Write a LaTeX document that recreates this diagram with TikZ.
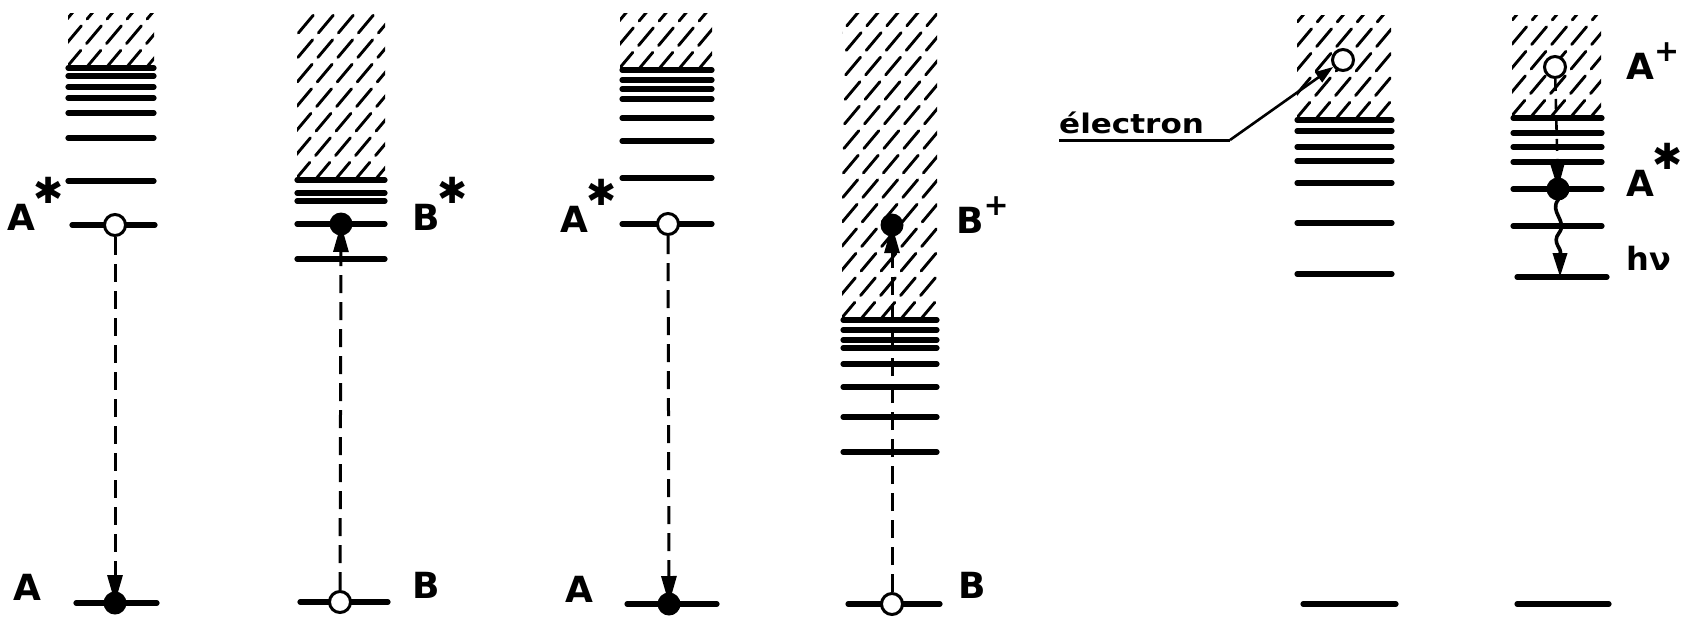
\documentclass[tikz,border=0pt]{standalone}
\usepackage{fontspec}
\setmainfont{DejaVu Sans}
\newfontfamily\widefont[FakeStretch=1.15]{DejaVu Sans}
\usetikzlibrary{arrows.meta}
\newcommand\myhatch[4]{%
  \begin{scope}
    \clip (#1,#2) rectangle (#3,#4);
    \foreach \k in {0,...,19} {
      \draw[hat] ({#1-262+\k*20},#4) -- ++(50:420pt);
    }
  \end{scope}}
\newcommand\mystar{\kern-2pt\raisebox{27pt}{\fontsize{36}{36}\selectfont ✱}}
\newcommand\myplus{\kern0pt\raisebox{18pt}{\fontsize{30}{30}\selectfont +}}
\begin{document}
\begin{tikzpicture}[x=1pt,y=-1pt,
  lvl/.style={line width=5.2pt, line cap=round},
  hat/.style={line width=2.9pt, dash pattern=on 23pt off 9pt, line cap=round},
  conn/.style={line width=3pt, dash pattern=on 18pt off 9pt},
  tip/.style={-{Triangle[length=28pt,width=15pt]}},
  odot/.style={circle, draw, fill=white, line width=3pt, minimum size=21pt, inner sep=0pt},
  fdot/.style={circle, fill=black, minimum size=23pt, inner sep=0pt},
  lab/.style={anchor=base west, inner sep=0pt, font=\bfseries\fontsize{36}{40}\selectfont},
]
\useasboundingbox[fill=white] (0,0) rectangle (1694,616);

% ---------- column 1 ----------
\myhatch{68}{13}{154}{68}
\foreach \y in {68,76,87,98,113,138,181} \draw[lvl] (68,\y) -- (154,\y);
\draw[lvl] (72,225) -- (155,225);
\draw[lvl] (76,603) -- (157,603);
\node[odot] (c1s) at (115,225) {};
\node[fdot] (c1g) at (115,603) {};
\draw[conn,tip] (c1s) -- (c1g.center);
\node[lab] (l1s) at (7,230) {A\mystar};
\node[lab] (l1g) at (13,600) {A};

% ---------- column 2 ----------
\myhatch{297}{13}{385}{180}
\foreach \y in {180,193,201,224,259} \draw[lvl] (297,\y) -- (385,\y);
\draw[lvl] (300,602) -- (388,602);
\node[fdot] (c2s) at (341,224) {};
\node[odot] (c2g) at (340,602) {};
\draw[conn,tip] (c2g) -- (c2s.center);
\node[lab] (l2s) at (412,230) {B\mystar};
\node[lab] (l2g) at (412,598) {B};

% ---------- column 3 ----------
\myhatch{620}{13}{712}{70}
\foreach \y in {70,80,89,99,118,141,178} \draw[lvl] (622,\y) -- (712,\y);
\draw[lvl] (622,224) -- (712,224);
\draw[lvl] (627,604) -- (717,604);
\node[odot] (c3s) at (668,224) {};
\node[fdot] (c3g) at (669,604) {};
\draw[conn,tip] (c3s) -- (c3g.center);
\node[lab] (l3s) at (560,232) {A\mystar};
\node[lab] (l3g) at (565,602) {A};

% ---------- column 4 ----------
\myhatch{842}{13}{937}{320}
\foreach \y in {320,330,340,348,364,387,417,452} \draw[lvl] (843,\y) -- (937,\y);
\draw[lvl] (848,604) -- (940,604);
\node[fdot] (c4s) at (892,225) {};
\node[odot] (c4g) at (892,604) {};
\draw[conn,tip] (c4g) -- (c4s.center);
\node[lab] (l4s) at (956,233) {B\myplus};
\node[lab] (l4g) at (958,598) {B};

% ---------- column 5 ----------
\myhatch{1297}{15}{1391}{120}
\foreach \y in {120,131,147,161,183,223,274} \draw[lvl] (1297,\y) -- (1392,\y);
\draw[lvl] (1303,604) -- (1396,604);
\node[odot] (c5) at (1343,60) {};
\node[anchor=base west, inner sep=0pt, font=\widefont\bfseries\fontsize{27}{30}\selectfont] (elab) at (1059,133) {électron};
\coordinate (u1) at (1059,140);
\coordinate (u2) at (1230,140);
\draw[line width=3pt] (u1) -- (u2);
\draw[line width=2.6pt, -{Triangle[length=18pt,width=12pt]}] (u2) -- (c5);

% ---------- column 6 ----------
\myhatch{1512}{15}{1601}{118}
\foreach \y in {118,133,147,162,226} \draw[lvl] (1513,\y) -- (1602,\y);
\draw[lvl] (1513,189) -- (1602,189);
\draw[lvl] (1517,277) -- (1607,277);
\draw[lvl] (1517,604) -- (1609,604);
\node[odot] (c6i) at (1555,67) {};
\node[fdot] (c6s) at (1558,189) {};
\coordinate (c6b) at (1560,277);
\draw[line width=2.6pt, dash pattern=on 12pt off 8pt, -{Triangle[length=24pt,width=13pt]}] (c6i) -- (c6s.center);
\draw[line width=3.6pt, -{Triangle[length=24pt,width=14pt]}] (c6s.center) -- (1558,200) .. controls (1549,212) and (1568,221) .. (1559,233) .. controls (1551,243) and (1563,249) .. (1560,254) -- (c6b);
\node[lab] (l6i) at (1626,79) {A\myplus};
\node[lab] (l6s) at (1626,196) {A\mystar};
\node[lab, font=\bfseries\fontsize{32}{36}\selectfont] (l6h) at (1626,270) {hν};
\end{tikzpicture}
\end{document}
